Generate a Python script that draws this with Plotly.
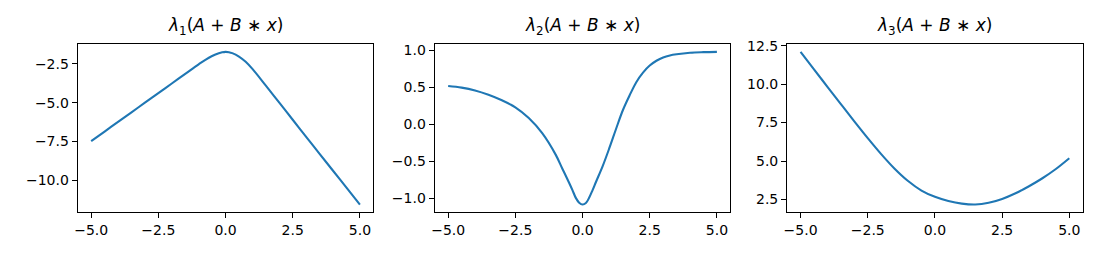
import plotly.graph_objects as go

# ---- data ----
x_l1 = [-5, -4.5, -4, -3.5, -3, -2.5, -2, -1.5, -1, -0.75, -0.5, -0.25, -0.125, 0,
        0.125, 0.25, 0.5, 0.75, 1, 1.5, 2, 2.5, 3, 3.5, 4, 4.5, 5]
lam1 = [-7.48, -6.86, -6.24, -5.62, -5.00, -4.38, -3.76, -3.14, -2.52, -2.23, -1.99, -1.81, -1.75, -1.72,
        -1.74, -1.80, -2.02, -2.36, -2.82, -3.90, -5.00, -6.10, -7.20, -8.30, -9.39, -10.48, -11.57]

x_l2 = [-5, -4.5, -4, -3.5, -3, -2.5, -2, -1.5, -1, -0.75, -0.5, -0.375, -0.25, -0.125, 0,
        0.125, 0.25, 0.375, 0.5, 0.75, 1, 1.25, 1.5, 1.75, 2, 2.25, 2.5, 2.75, 3, 3.25, 3.5, 4, 4.5, 5]
lam2 = [0.518, 0.496, 0.458, 0.40, 0.325, 0.23, 0.085, -0.12, -0.41, -0.60, -0.79, -0.89, -0.995, -1.06,
        -1.085, -1.065, -0.99, -0.89, -0.78, -0.565, -0.32, -0.06, 0.19, 0.39, 0.57, 0.70, 0.795,
        0.86, 0.905, 0.932, 0.948, 0.968, 0.976, 0.98]

x_l3 = [-5, -4.5, -4, -3.5, -3, -2.5, -2, -1.5, -1, -0.5, 0, 0.5, 1, 1.5, 2, 2.5, 3, 3.5, 4, 4.5, 5]
lam3 = [12.10, 10.96, 9.83, 8.70, 7.58, 6.49, 5.45, 4.50, 3.70, 3.08, 2.67, 2.40, 2.23, 2.17, 2.28,
        2.53, 2.90, 3.36, 3.88, 4.48, 5.18]

x_ticks = [-5, -2.5, 0, 2.5, 5]
y_ticks1 = [-10, -7.5, -5, -2.5]
y_ticks2 = [-1, -0.5, 0, 0.5, 1]
y_ticks3 = [2.5, 5, 7.5, 10, 12.5]

titles = [
    "<i>λ</i><sub>1</sub>(<i>A</i> + <i>B</i> ∗ <i>x</i>)",
    "<i>λ</i><sub>2</sub>(<i>A</i> + <i>B</i> ∗ <i>x</i>)",
    "<i>λ</i><sub>3</sub>(<i>A</i> + <i>B</i> ∗ <i>x</i>)",
]

# ---- layout ----
W, H = 1093, 253
x_dom_px = [(74, 370.7), (432.3, 729), (786, 1082.7)]
y_dom = [1 - 211 / H, 1 - 38.3 / H]

def fmt(v):
    s = f"{v:.1f}"
    return s.replace("-", "\u2212")

def pad_range(vals, frac=0.05):
    lo, hi = min(vals), max(vals)
    d = (hi - lo) * frac
    return [lo - d, hi + d]

fig = go.Figure()
series = [(x_l1, lam1, y_ticks1), (x_l2, lam2, y_ticks2), (x_l3, lam3, y_ticks3)]
tick_font = dict(family="DejaVu Sans", size=14, color="black")

for i, (xs, ys, yt) in enumerate(series):
    n = "" if i == 0 else str(i + 1)
    fig.add_trace(go.Scatter(
        x=xs, y=ys, mode="lines",
        line=dict(color="#1f77b4", width=2.1, shape="spline", smoothing=1.0),
        xaxis="x" + n, yaxis="y" + n, showlegend=False, hoverinfo="skip"))
    axcommon = dict(showline=True, mirror=True, linecolor="black", linewidth=1.1,
                    ticks="outside", ticklen=5, tickwidth=1.1, tickcolor="black",
                    showgrid=False, zeroline=False, tickfont=tick_font)
    d0, d1 = x_dom_px[i]
    fig.update_layout(**{
        "xaxis" + n: dict(domain=[d0 / W, d1 / W], anchor="y" + n,
                          range=pad_range(xs), tickvals=x_ticks,
                          ticktext=[fmt(v) for v in x_ticks], **axcommon),
        "yaxis" + n: dict(domain=y_dom, anchor="x" + n,
                          range=pad_range(ys), tickvals=yt,
                          ticktext=[fmt(v) for v in yt], **axcommon),
    })
    fig.add_annotation(text=titles[i], xref="paper", yref="paper",
                       x=(d0 + d1) / 2 / W, y=y_dom[1], xanchor="center", yanchor="bottom",
                       yshift=4, showarrow=False,
                       font=dict(family="DejaVu Sans", size=17, color="black"))

fig.update_layout(width=W, height=H, margin=dict(l=0, r=0, t=0, b=0),
                  plot_bgcolor="white", paper_bgcolor="white",
                  font=dict(family="DejaVu Sans", size=14, color="black"))

fig.write_html("out.html")
